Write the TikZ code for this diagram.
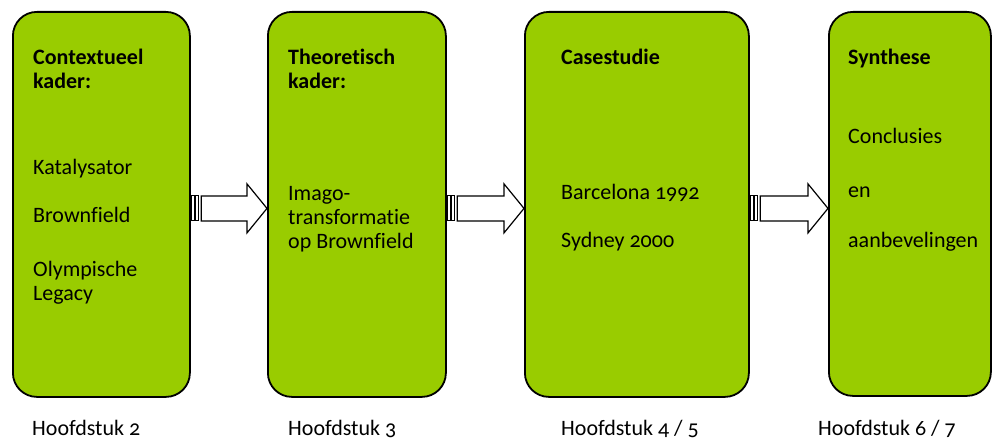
\documentclass[tikz,border=0pt]{standalone}
\usepackage{fontspec}
\setmainfont{Carlito}[Numbers=OldStyle, Ligatures=NoCommon]
\usetikzlibrary{calc}
\definecolor{boxgreen}{RGB}{153,204,0}
\tikzset{
  box/.style={draw=black, line width=1.8pt, fill=boxgreen, rounded corners=24pt, anchor=north west, inner sep=0pt},
  txt/.style={anchor=base west, inner sep=0pt, font=\fontsize{22}{24}\selectfont},
  btxt/.style={txt, font=\fontsize{22}{24}\selectfont\bfseries},
  arrowline/.style={draw=black, fill=white, line width=1.2pt, line join=miter},
  stripe/.style={draw=black, fill=white, line width=0.9pt}
}
\newcommand{\stripedarrow}[2]{%
  \path let \p1=($(#1.east)+(0,-4pt)$), \p2=($(#2.west)+(0,-4pt)$) in
    [stripe] (\x1+0.8pt,\y1-12.5pt) rectangle (\x1+3.2pt,\y1+12.5pt)
    [stripe] (\x1+5pt,\y1-12.5pt) rectangle (\x1+8pt,\y1+12.5pt);
  \path let \p1=($(#1.east)+(0,-4pt)$), \p2=($(#2.west)+(0,-4pt)$) in
    [arrowline] (\x1+10.5pt,\y1-12.5pt) -- (\x2-20pt,\y1-12.5pt) -- (\x2-20pt,\y1-24.5pt)
    -- (\x2,\y1) -- (\x2-20pt,\y1+24.5pt) -- (\x2-20pt,\y1+12.5pt) -- (\x1+10.5pt,\y1+12.5pt) -- cycle;
}
\begin{document}
\begin{tikzpicture}[x=1pt,y=-1pt]
\useasboundingbox (0,0) rectangle (993,441);
% boxes
\node[box, minimum width=177pt, minimum height=385pt] (b1) at (12,11) {};
\node[box, minimum width=178pt, minimum height=385pt] (b2) at (267,11) {};
\node[box, minimum width=224pt, minimum height=385pt] (b3) at (524,11) {};
\node[box, minimum width=162pt, minimum height=384pt] (b4) at (828,11) {};
% arrows
\stripedarrow{b1}{b2}
\stripedarrow{b2}{b3}
\stripedarrow{b3}{b4}
% box 1
\node[btxt] (t11) at (33,65) {Contextueel};
\node[btxt] (t12) at (33,89) {kader:};
\node[txt] (t13) at (33,175) {Katalysator};
\node[txt] (t14) at (33,222) {Brownfield};
\node[txt] (t15) at (33,276) {Olympische};
\node[txt] (t16) at (33,300) {Legacy};
% box 2
\node[btxt] (t21) at (288,65) {Theoretisch};
\node[btxt] (t22) at (288,89) {kader:};
\node[txt] (t23) at (288,200) {Imago-};
\node[txt] (t24) at (288,224) {transformatie};
\node[txt] (t25) at (288,248) {op Brownfield};
% box 3
\node[btxt] (t31) at (561,65) {Casestudie};
\node[txt] (t32) at (561,199) {Barcelona 1992};
\node[txt] (t33) at (561,247) {Sydney 2000};
% box 4
\node[btxt] (t41) at (848,65) {Synthese};
\node[txt] (t42) at (848,143) {Conclusies};
\node[txt] (t43) at (848,197) {en};
\node[txt] (t44) at (848,247) {aanbevelingen};
% chapter labels
\node[txt] (h1) at (32,435) {Hoofdstuk 2};
\node[txt] (h2) at (288,435) {Hoofdstuk 3};
\node[txt] (h3) at (561,435) {Hoofdstuk 4 / 5};
\node[txt] (h4) at (818,435) {Hoofdstuk 6 / 7};
\end{tikzpicture}
\end{document}
